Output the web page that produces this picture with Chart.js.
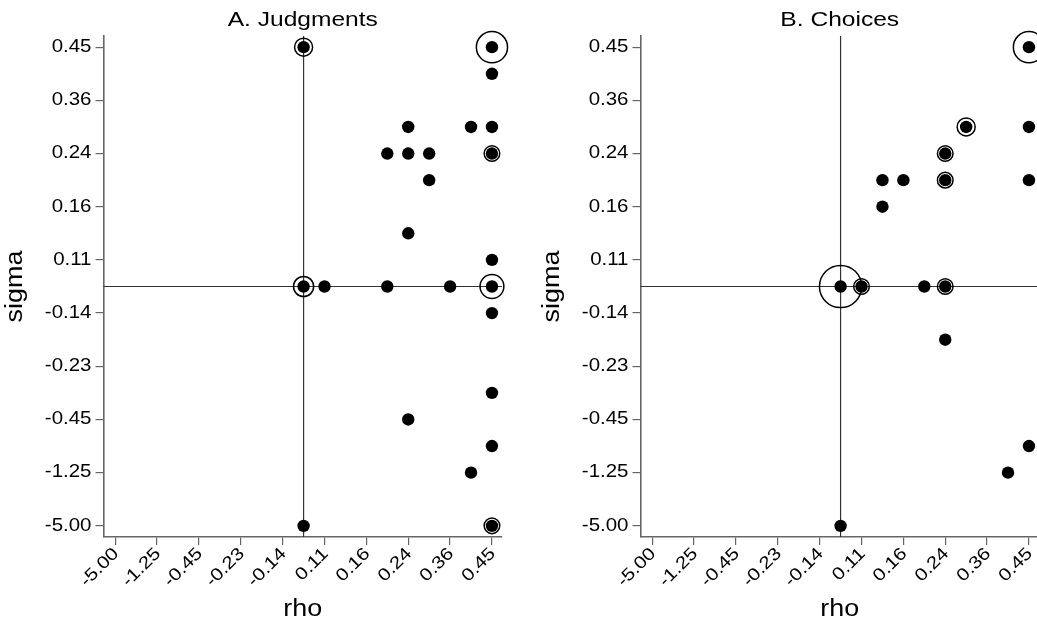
<!DOCTYPE html>
<html>
<head>
<meta charset="utf-8">
<script src="https://cdn.jsdelivr.net/npm/chart.js@4.4.1/dist/chart.umd.min.js"></script>
<style>
  html, body { margin: 0; padding: 0; background: #fff; }
  body { width: 1037px; height: 624px; overflow: hidden; position: relative; }
  .panel { position: absolute; top: 0; width: 537px; height: 624px; }
</style>
</head>
<body>
<div class="panel" style="left:0"><canvas id="judg" width="537" height="624"></canvas></div>
<div class="panel" style="left:537px"><canvas id="choice" width="537" height="624"></canvas></div>
<script>
// ordered ladder of parameter values; each step is half a tick apart on the axes
const levels = [-5.00, -2.50, -1.25, -0.80, -0.45, -0.32, -0.23, -0.18, -0.14, 0.00,
                0.11, 0.13, 0.16, 0.20, 0.24, 0.30, 0.36, 0.41, 0.45];
const tickLabels = ['-5.00', '-1.25', '-0.45', '-0.23', '-0.14', '0.11', '0.16', '0.24', '0.36', '0.45'];

// A. Judgments
const judgRho   = [0, 0.45, 0.45, 0.24, 0.41, 0.45, 0.20, 0.24, 0.30, 0.45, 0.30, 0.24, 0.45,
                   0, 0.11, 0.20, 0.36, 0.45, 0.45, 0.45, 0.24, 0.45, 0.41, 0, 0.45];
const judgSigma = [0.45, 0.45, 0.41, 0.30, 0.30, 0.30, 0.24, 0.24, 0.24, 0.24, 0.20, 0.13, 0.11,
                   0, 0, 0, 0, 0, -0.14, -0.32, -0.45, -0.80, -1.25, -5.00, -5.00];
const judgCount = [4, 12, 1, 1, 1, 1, 1, 1, 1, 3, 1, 1, 1,
                   5, 1, 1, 1, 7, 1, 1, 1, 1, 1, 1, 3];

// B. Choices
const choiceRho   = [0.45, 0.30, 0.45, 0.24, 0.13, 0.16, 0.24, 0.45, 0.13, 0, 0.11, 0.20, 0.24, 0.24, 0.45, 0.41, 0];
const choiceSigma = [0.45, 0.30, 0.30, 0.24, 0.20, 0.20, 0.20, 0.20, 0.16, 0, 0, 0, 0, -0.18, -0.80, -1.25, -5.00];
const choiceCount = [12, 4, 1, 3, 1, 1, 3, 1, 1, 22, 3, 1, 3, 1, 1, 1, 1];

const FONT = '"Liberation Sans", Arial, sans-serif';
const SX = 1.17;   // wide lettering

// value -> position on the ladder (one tick = 1 unit)
function toPos(v) {
  for (let i = 0; i < levels.length - 1; i++) {
    if (v <= levels[i + 1]) {
      return (i + (v - levels[i]) / (levels[i + 1] - levels[i])) / 2;
    }
  }
  return (levels.length - 1) / 2;
}

function wideText(ctx, str, x, y, rot, align, size) {
  ctx.save();
  ctx.translate(x, y);
  ctx.rotate(rot);
  ctx.scale(SX, 1);
  ctx.font = size + 'px ' + FONT;
  ctx.textAlign = align;
  ctx.textBaseline = 'middle';
  ctx.fillStyle = '#000';
  ctx.fillText(str, 0, 0);
  ctx.restore();
}

// zero reference lines
const zeroLines = {
  id: 'zeroLines',
  beforeDatasetsDraw(chart) {
    const { ctx, chartArea: a, scales: { x, y } } = chart;
    const px = x.getPixelForValue(toPos(0));
    const py = y.getPixelForValue(toPos(0));
    ctx.save();
    ctx.strokeStyle = '#333';
    ctx.lineWidth = 1.2;
    ctx.beginPath();
    ctx.moveTo(px, a.top); ctx.lineTo(px, a.bottom);
    ctx.moveTo(a.left, py); ctx.lineTo(a.right, py);
    ctx.stroke();
    ctx.restore();
  }
};

// titles and tick labels
const labels = {
  id: 'labels',
  afterDraw(chart, args, opts) {
    const { ctx, chartArea: a, scales: { x, y } } = chart;
    const cx = (a.left + a.right) / 2;
    wideText(ctx, opts.title, cx, 20, 0, 'center', 21);
    tickLabels.forEach(t => {
      const p = toPos(parseFloat(t));
      wideText(ctx, t, a.left - 12, y.getPixelForValue(p), 0, 'right', 17.5);
      wideText(ctx, t, x.getPixelForValue(p) + 1, a.bottom + 14, -Math.PI / 4, 'right', 17.5);
    });
    wideText(ctx, 'rho', cx, 610, 0, 'center', 23);
    wideText(ctx, 'sigma', 16, (a.top + a.bottom) / 2, -Math.PI / 2, 'center', 23);
  }
};

function makePanel(id, title, rho, sigma, count) {
  const pts = rho.map((r, i) => ({ x: toPos(r), y: toPos(sigma[i]), n: count[i] }));
  const axisCommon = {
    type: 'linear',
    grid: { drawOnChartArea: false, drawTicks: true, tickLength: 8, color: '#666', lineWidth: 1.2 },
    border: { display: true, color: '#666', width: 1.6 },
    ticks: { display: false },
    afterBuildTicks: s => { s.ticks = tickLabels.map(t => ({ value: toPos(parseFloat(t)) })); }
  };
  return new Chart(document.getElementById(id), {
    type: 'scatter',
    data: {
      datasets: [
        {
          data: pts,
          pointRadius: 6.2,
          pointBackgroundColor: '#000',
          pointBorderWidth: 0,
          clip: false
        },
        {
          data: pts.filter(p => p.n > 1),
          pointRadius: c => 4.5 * Math.sqrt(c.raw.n),
          pointBackgroundColor: 'rgba(0,0,0,0)',
          pointBorderColor: '#000',
          pointBorderWidth: 1.5,
          clip: false
        }
      ]
    },
    options: {
      responsive: false,
      animation: false,
      devicePixelRatio: 1,
      events: [],
      layout: { padding: { left: 0, right: 35, top: 36, bottom: 0 } },
      plugins: {
        legend: { display: false },
        tooltip: { enabled: false },
        labels: { title: title }
      },
      scales: {
        x: Object.assign({}, axisCommon, {
          min: -0.28, max: 9.24,
          afterFit: s => { s.height = 87; }
        }),
        y: Object.assign({}, axisCommon, {
          min: -0.21, max: 9.21,
          afterFit: s => { s.width = 103.5; }
        })
      }
    },
    plugins: [zeroLines, labels]
  });
}

makePanel('judg', 'A. Judgments', judgRho, judgSigma, judgCount);
makePanel('choice', 'B. Choices', choiceRho, choiceSigma, choiceCount);
</script>
</body>
</html>
